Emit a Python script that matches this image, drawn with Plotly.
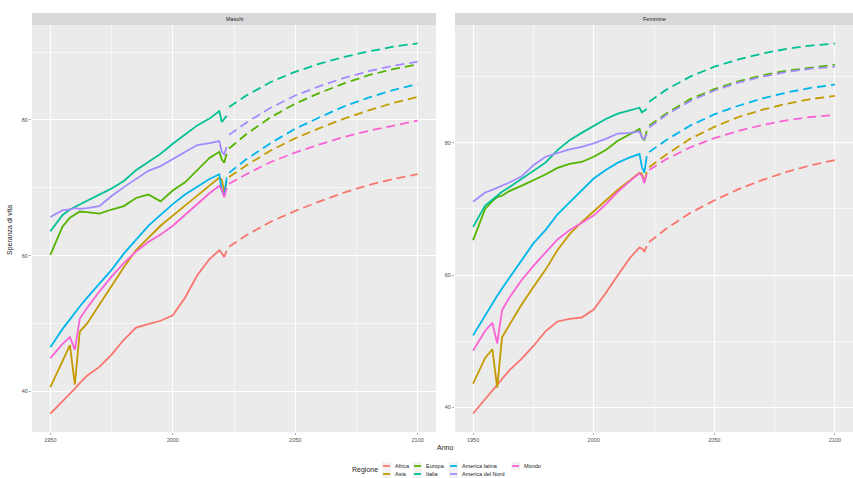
import plotly.graph_objects as go

# ---------------- data ----------------
regions = ["Africa", "Asia", "Europa", "Italia", "America latina", "America del Nord", "Mondo"]
colors = ["#F8766D", "#C49A00", "#53B400", "#00C094", "#00B6EB", "#A58AFF", "#FB61D7"]
panels = ["Maschi", "Femmine"]

hist_years = [1950, 1955, 1958, 1960, 1962, 1965, 1970, 1975, 1980, 1985, 1990,
              1995, 2000, 2005, 2010, 2015, 2019, 2020, 2021, 2022]
proj_years = [2023, 2030, 2040, 2050, 2060, 2070, 2080, 2090, 2100]

# Maschi - observed
m_africa = [36.7, 38.5, 39.6, 40.4, 41.2, 42.3, 43.6, 45.4, 47.6, 49.4, 49.9, 50.4, 51.2, 53.8, 57.1, 59.5, 60.8, 60.4, 59.8, 60.7]
m_asia = [40.6, 44.5, 46.8, 41.0, 48.8, 50.0, 52.7, 55.6, 58.3, 60.8, 62.6, 64.4, 65.9, 67.4, 68.9, 70.3, 71.5, 71.2, 69.4, 70.9]
m_europa = [60.1, 64.3, 65.6, 66.1, 66.5, 66.4, 66.2, 66.8, 67.3, 68.5, 69.0, 68.0, 69.6, 70.8, 72.6, 74.4, 75.3, 74.2, 73.7, 75.0]
m_italia = [63.6, 66.0, 66.8, 67.2, 67.5, 68.1, 69.0, 69.9, 71.0, 72.6, 73.8, 75.0, 76.5, 77.8, 79.2, 80.2, 81.3, 79.7, 80.2, 80.6]
m_amlat = [46.5, 49.2, 50.6, 51.6, 52.5, 53.8, 55.8, 57.9, 60.3, 62.3, 64.4, 66.0, 67.6, 69.0, 70.2, 71.3, 72.0, 69.6, 68.8, 71.5]
m_amnord = [65.7, 66.7, 66.8, 67.0, 66.9, 67.0, 67.3, 68.8, 70.1, 71.3, 72.5, 73.2, 74.2, 75.3, 76.3, 76.6, 76.9, 75.3, 74.9, 76.0]
m_mondo = [44.9, 47.0, 48.0, 46.1, 50.7, 52.3, 54.7, 56.9, 58.9, 60.6, 62.0, 63.1, 64.4, 66.0, 67.7, 69.2, 70.3, 69.7, 68.6, 70.0]

# Maschi - projections
m_africa_p = [61.3, 63.0, 65.0, 66.6, 68.0, 69.3, 70.4, 71.3, 72.0]
m_asia_p = [71.6, 73.3, 75.5, 77.3, 78.8, 80.2, 81.4, 82.5, 83.4]
m_europa_p = [75.8, 77.9, 80.4, 82.4, 84.0, 85.4, 86.6, 87.5, 88.2]
m_italia_p = [81.9, 83.6, 85.6, 87.1, 88.3, 89.3, 90.1, 90.8, 91.3]
m_amlat_p = [72.2, 74.2, 76.6, 78.7, 80.4, 82.0, 83.3, 84.4, 85.3]
m_amnord_p = [77.8, 79.6, 81.8, 83.6, 85.0, 86.2, 87.2, 88.0, 88.6]
m_mondo_p = [70.6, 72.0, 73.8, 75.2, 76.4, 77.5, 78.4, 79.2, 79.9]

# Femmine - observed
f_africa = [39.1, 41.3, 42.6, 43.5, 44.4, 45.6, 47.3, 49.3, 51.5, 53.0, 53.4, 53.6, 54.8, 57.3, 60.0, 62.6, 64.2, 64.0, 63.6, 64.4]
f_asia = [43.6, 47.5, 48.8, 43.0, 50.6, 52.5, 55.5, 58.2, 60.8, 63.8, 66.2, 68.0, 69.6, 71.2, 72.9, 74.3, 75.5, 75.3, 74.1, 75.6]
f_europa = [65.3, 70.0, 71.2, 71.8, 72.0, 72.7, 73.5, 74.3, 75.2, 76.2, 76.8, 77.1, 77.9, 78.9, 80.3, 81.3, 82.1, 80.8, 80.4, 81.8]
f_italia = [67.3, 70.5, 71.4, 72.0, 72.6, 73.3, 74.5, 75.8, 77.0, 78.9, 80.4, 81.5, 82.6, 83.6, 84.4, 84.9, 85.3, 84.6, 84.8, 85.1]
f_amlat = [50.9, 54.0, 55.7, 56.9, 58.0, 59.6, 62.3, 64.8, 66.8, 69.2, 71.0, 72.8, 74.6, 75.9, 77.0, 77.8, 78.3, 76.3, 75.5, 78.0]
f_amnord = [71.1, 72.5, 72.9, 73.2, 73.5, 74.0, 74.9, 76.6, 77.9, 78.5, 79.0, 79.4, 79.9, 80.6, 81.4, 81.5, 81.7, 80.8, 80.6, 81.3]
f_mondo = [48.6, 51.6, 52.8, 49.7, 54.7, 56.6, 59.2, 61.4, 63.4, 65.4, 66.8, 67.9, 69.0, 70.7, 72.6, 74.2, 75.4, 75.0, 73.9, 75.3]

# Femmine - projections
f_africa_p = [65.0, 67.0, 69.4, 71.3, 73.0, 74.4, 75.6, 76.6, 77.4]
f_asia_p = [76.3, 78.2, 80.6, 82.4, 83.9, 85.0, 85.9, 86.6, 87.1]
f_europa_p = [82.6, 84.4, 86.6, 88.1, 89.3, 90.2, 90.9, 91.4, 91.8]
f_italia_p = [86.2, 88.0, 90.0, 91.5, 92.6, 93.5, 94.2, 94.7, 95.0]
f_amlat_p = [78.6, 80.4, 82.6, 84.3, 85.6, 86.7, 87.6, 88.3, 88.8]
f_amnord_p = [82.3, 84.2, 86.3, 87.9, 89.1, 90.0, 90.7, 91.2, 91.5]
f_mondo_p = [75.9, 77.5, 79.3, 80.7, 81.8, 82.7, 83.4, 83.9, 84.2]

x_ticks = [1950, 2000, 2050, 2100]
y_ticks = [40, 60, 80]

# ---------------- figure ----------------
W, H = 853, 478
ML, MR, MT, MB = 32, 0, 25, 46
PW, PH = W - ML - MR, H - MT - MB


def px2x(px):
    return (px - ML) / PW


def py2y(py):
    return (H - MB - py) / PH


hist = {
    "Maschi": [m_africa, m_asia, m_europa, m_italia, m_amlat, m_amnord, m_mondo],
    "Femmine": [f_africa, f_asia, f_europa, f_italia, f_amlat, f_amnord, f_mondo],
}
proj = {
    "Maschi": [m_africa_p, m_asia_p, m_europa_p, m_italia_p, m_amlat_p, m_amnord_p, m_mondo_p],
    "Femmine": [f_africa_p, f_asia_p, f_europa_p, f_italia_p, f_amlat_p, f_amnord_p, f_mondo_p],
}

fig = go.Figure()
axes = {"Maschi": ("x", "y"), "Femmine": ("x2", "y2")}
for p in panels:
    xa, ya = axes[p]
    for i, r in enumerate(regions):
        fig.add_trace(go.Scatter(
            x=hist_years, y=hist[p][i], mode="lines", name=r, showlegend=False,
            line=dict(color=colors[i], width=1.8), xaxis=xa, yaxis=ya))
        fig.add_trace(go.Scatter(
            x=proj_years, y=proj[p][i], mode="lines", name=r, showlegend=False,
            line=dict(color=colors[i], width=1.8, dash="9px,5px"), xaxis=xa, yaxis=ya))

tickfont = dict(family="Liberation Sans, Arial, sans-serif", size=5.5, color="#4D4D4D")
common_x = dict(range=[1942.5, 2107.5], tickvals=x_ticks, ticktext=[str(v) for v in x_ticks],
                showgrid=True, gridcolor="#FFFFFF", gridwidth=1, zeroline=False,
                ticks="outside", ticklen=2, tickcolor="#AAAAAA", tickfont=tickfont,
                minor=dict(tickvals=[1975, 2025, 2075], showgrid=True, gridcolor="#F6F6F6", gridwidth=0.5),
                showline=False)
common_y = dict(tickvals=y_ticks, ticktext=[str(v) for v in y_ticks],
                showgrid=True, gridcolor="#FFFFFF", gridwidth=1, zeroline=False,
                ticks="outside", ticklen=2, tickcolor="#AAAAAA", tickfont=tickfont,
                minor=dict(tickvals=[50, 70, 90], showgrid=True, gridcolor="#F6F6F6", gridwidth=0.5),
                showline=False)

left_dom = [0, px2x(436)]
right_dom = [px2x(455), 1]

fig.update_layout(
    width=W, height=H, margin=dict(l=ML, r=MR, t=MT, b=MB),
    paper_bgcolor="white", plot_bgcolor="#EBEBEB",
    font=dict(family="Liberation Sans, Arial, sans-serif", color="#1A1A1A"),
    xaxis=dict(domain=left_dom, anchor="y", **common_x),
    yaxis=dict(domain=[0, 1], anchor="x", range=[34.0, 94.0], **common_y),
    xaxis2=dict(domain=right_dom, anchor="y2", **common_x),
    yaxis2=dict(domain=[0, 1], anchor="x2", range=[36.3, 97.8], **common_y),
    showlegend=False,
)

shapes = []
annotations = []
# strips
for dom, title in [(left_dom, panels[0]), (right_dom, panels[1])]:
    shapes.append(dict(type="rect", xref="paper", yref="paper", x0=dom[0], x1=dom[1],
                       y0=py2y(25), y1=py2y(13), fillcolor="#D9D9D9", line=dict(width=0), layer="below"))
    annotations.append(dict(xref="paper", yref="paper", x=(dom[0] + dom[1]) / 2, y=py2y(19),
                            text=title, showarrow=False, xanchor="center", yanchor="middle",
                            font=dict(size=5.5, color="#1A1A1A")))

# axis titles
annotations.append(dict(xref="paper", yref="paper", x=px2x(445), y=py2y(447), text="Anno",
                        showarrow=False, xanchor="center", yanchor="middle", font=dict(size=7, color="#1A1A1A")))
annotations.append(dict(xref="paper", yref="paper", x=px2x(10), y=py2y(230), text="Speranza di vita",
                        showarrow=False, textangle=-90, xanchor="center", yanchor="middle",
                        font=dict(size=7, color="#1A1A1A")))

# legend (ggplot style, 2 rows filled by column)
annotations.append(dict(xref="paper", yref="paper", x=px2x(350), y=py2y(470), text="Regione",
                        showarrow=False, xanchor="left", yanchor="middle", font=dict(size=7, color="#1A1A1A")))
col_x = [383, 414, 450, 512]
row_y = [466, 474]
for i, r in enumerate(regions):
    c, rr = i // 2, i % 2
    kx, ky = col_x[c], row_y[rr]
    shapes.append(dict(type="rect", xref="paper", yref="paper", x0=px2x(kx - 1), x1=px2x(kx + 8),
                       y0=py2y(ky + 4), y1=py2y(ky - 4), fillcolor="#F2F2F2", line=dict(width=0)))
    shapes.append(dict(type="line", xref="paper", yref="paper", x0=px2x(kx), x1=px2x(kx + 7),
                       y0=py2y(ky), y1=py2y(ky), line=dict(color=colors[i], width=1.8)))
    annotations.append(dict(xref="paper", yref="paper", x=px2x(kx + 10), y=py2y(ky), text=r,
                            showarrow=False, xanchor="left", yanchor="middle",
                            font=dict(size=5.5, color="#1A1A1A")))

fig.update_layout(shapes=shapes, annotations=annotations)
fig.write_html("out.html")
